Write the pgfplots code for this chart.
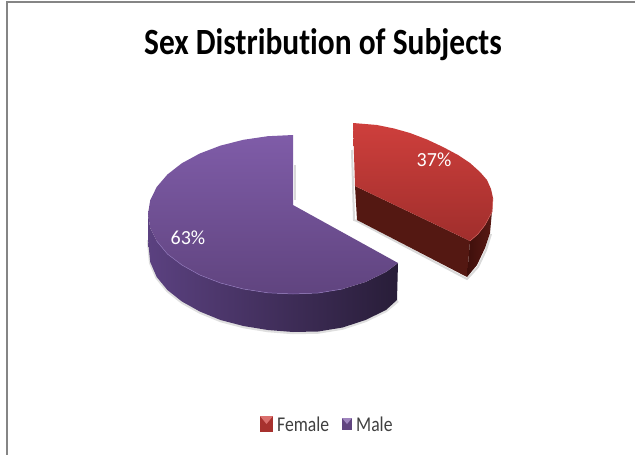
\documentclass[border=0pt]{standalone}
\usepackage{pgfplots}
\pgfplotsset{compat=1.18}
\usepackage{fontspec}
\setmainfont{Carlito}[Ligatures=NoCommon]
\definecolor{frameline}{HTML}{858585}
\definecolor{purpleTopA}{HTML}{7F5CA8}
\definecolor{purpleTopB}{HTML}{60447F}
\definecolor{purpleEdge}{HTML}{8D74B8}
\definecolor{purpleSideA}{HTML}{5B4180}
\definecolor{purpleSideB}{HTML}{38274F}
\definecolor{purpleSideC}{HTML}{281D38}
\definecolor{redTopA}{HTML}{CE3F3C}
\definecolor{redTopB}{HTML}{A02E2C}
\definecolor{redEdge}{HTML}{D2605C}
\definecolor{redCut}{HTML}{541812}
\definecolor{redSideA}{HTML}{3E0F0B}
\definecolor{redSideB}{HTML}{5A1A15}
\definecolor{legendText}{HTML}{404040}
\begin{document}
\begin{tikzpicture}
\useasboundingbox (0,0) rectangle (635bp,455bp);
\begin{axis}[
  scale only axis, width=635bp, height=455bp,
  xmin=0, xmax=635, ymin=0, ymax=455, y dir=reverse,
  axis lines=none, clip=true,
]
% frame of the chart area
\addplot[draw=frameline, line width=2bp] coordinates {(6.5,455) (6.5,2.5) (635,2.5)};

% soft shadows under the slices
\addplot[draw=gray, opacity=0.25, line width=2.5bp] coordinates {(148,240) (150.2,263) (156.7,278) (167.4,291) (181.9,302.5) (199.8,312.5) (220.5,321) (243.4,327) (267.8,331) (293,333) (318.2,332.5) (342.6,328.5) (365.5,321) (386,311) (398,301)};
\addplot[draw=gray, opacity=0.3, line width=2bp] coordinates {(295,165) (295,200)};
\addplot[draw=gray, opacity=0.3, line width=2bp] coordinates {(352,150) (354,220) (357,221) (467,279) (478,267) (486,250) (491,234)};

% Male: outer wall
\addplot[draw=none, left color=purpleSideA, middle color=purpleSideB, right color=purpleSideC] coordinates {
 (148,214) (150.2,227.9) (156.7,241) (167.4,254) (181.9,265) (199.8,275) (220.5,283) (243.4,289) (267.8,292.8) (293,294) (318.2,293) (342.6,289) (365.5,282) (386,272) (398,263)
 (397,300) (386,310) (365.5,320) (342.6,327.5) (318.2,331.5) (293,332) (267.8,330) (243.4,326) (220.5,320) (199.8,311.5) (181.9,301.5) (167.4,290) (156.7,277) (150.2,262) (148,240)} --cycle;
% Male: top face
\addplot[draw=none, top color=purpleTopA, bottom color=purpleTopB] coordinates {
 (293,205) (293,135) (267.8,136.2) (243.4,139.8) (220.5,145.6) (199.8,153.5) (181.9,163.2) (167.4,174.5) (156.7,187) (150.2,200.3) (148,214) (150.2,227.9) (156.7,241) (167.4,254) (181.9,265) (199.8,275) (220.5,283) (243.4,289) (267.8,292.8) (293,294) (318.2,293) (342.6,289) (365.5,282) (386,272) (398,263)} --cycle;
\addplot[draw=purpleEdge, line width=0.5bp] coordinates {
 (156.7,241) (167.4,254) (181.9,265) (199.8,275) (220.5,283) (243.4,289) (267.8,292.8) (293,294) (318.2,293) (342.6,289)};

% Female: cut face, outer wall, top face
\addplot[draw=none, fill=redCut] coordinates {(355,186) (470,241) (467,277) (357,220)} --cycle;
\addplot[draw=none, left color=redSideA, right color=redSideB] coordinates {
 (470,241) (478,234) (485,225) (492,212) (493,200) (490,233) (485,248) (477,265) (467,277)} --cycle;
\addplot[draw=none, top color=redTopA, bottom color=redTopB] coordinates {
 (355,186) (353,123) (377,125) (394,128.5) (410,133) (427,139.5) (443,147) (458,155) (470,163) (480,172) (487,180) (491,189) (493,198) (492,212) (485,225) (478,234) (470,241)} --cycle;
\addplot[draw=redEdge, line width=0.5bp] coordinates {(493,198) (492,212) (485,225) (478,234) (470,241)};

% legend keys
\addplot[draw=none, fill=redTopB!85!redTopA] coordinates {(260,416) (273,416) (273,432) (260,432)} --cycle;
\addplot[draw=none, fill=redTopA!75!white] coordinates {(260,416) (273,416) (266.5,424)} --cycle;
\addplot[draw=none, fill=purpleTopB] coordinates {(342,418) (352,418) (352,430) (342,430)} --cycle;
\addplot[draw=none, fill=purpleTopA!75!white] coordinates {(342,418) (352,418) (347,424)} --cycle;

% title, slice labels and legend text
\node[font=\fontsize{37bp}{40bp}\selectfont\bfseries, text=black, inner sep=0pt] at (axis cs:323,45) {\scalebox{0.85}[1]{Sex Distribution of Subjects}};
\node[font=\fontsize{20bp}{24bp}\selectfont, text=white, inner sep=0pt] at (axis cs:434,160) {37\%};
\node[font=\fontsize{20bp}{24bp}\selectfont, text=white, inner sep=0pt] at (axis cs:188,238) {63\%};
\node[font=\fontsize{21bp}{24bp}\selectfont, text=legendText, inner sep=0pt, anchor=base west] at (axis cs:277,431) {\scalebox{0.84}[1]{Female}};
\node[font=\fontsize{21bp}{24bp}\selectfont, text=legendText, inner sep=0pt, anchor=base west] at (axis cs:356,431) {\scalebox{0.84}[1]{Male}};
\end{axis}
\end{tikzpicture}
\end{document}
